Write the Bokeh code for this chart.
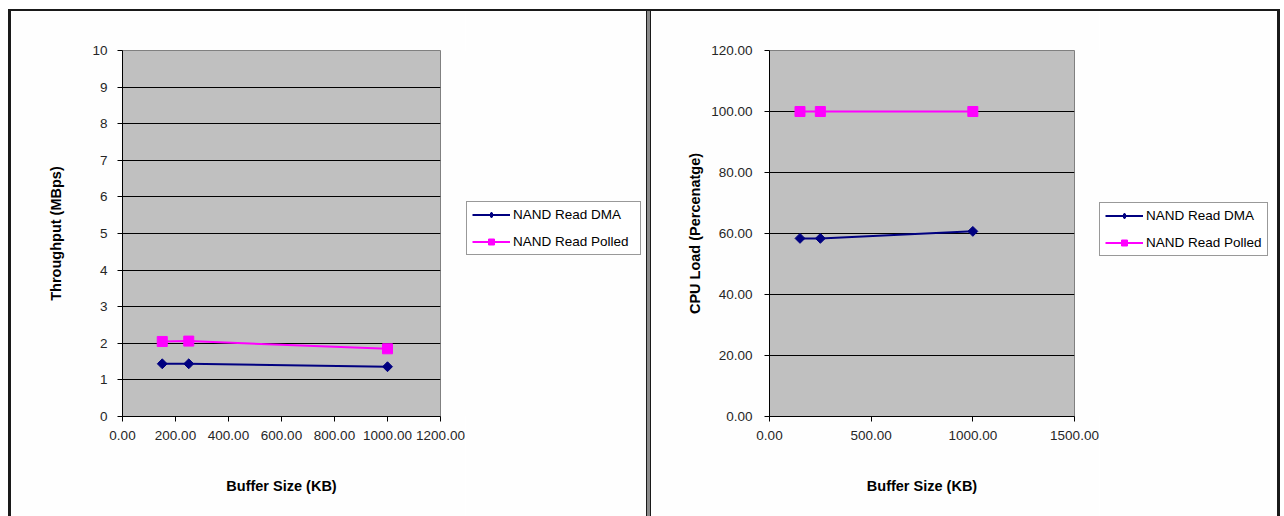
import math

from bokeh.plotting import figure
from bokeh.layouts import row, column
from bokeh.models import (Div, Spacer, FixedTicker, PrintfTickFormatter,
                          Legend, LegendItem, Range1d)
from bokeh.embed import file_html
from bokeh.resources import INLINE

# Measured NAND read performance vs. buffer size
buffer_kb = [150, 250, 1000]
tput_dma = [1.44, 1.44, 1.36]
tput_polled = [2.05, 2.06, 1.85]
cpu_dma = [58.4, 58.4, 60.7]
cpu_polled = [100.0, 100.0, 100.0]

series_names = ["NAND Read DMA", "NAND Read Polled"]

tput_x_ticks = [0, 200, 400, 600, 800, 1000, 1200]
tput_y_ticks = [0, 1, 2, 3, 4, 5, 6, 7, 8, 9, 10]
cpu_x_ticks = [0, 500, 1000, 1500]
cpu_y_ticks = [0, 20, 40, 60, 80, 100, 120]

FONT = "Liberation Sans"
DMA_COLOR = "#000080"
POLLED_COLOR = "#FF00FF"
PANEL_BG = "#fefefe"
HEIGHT = 505


def make_chart(width, left, x_ticks, y_ticks, y_fmt, y_label, dma, polled,
               y_label_standoff, y_tick_standoff):
    p = figure(width=width, height=HEIGHT, output_backend="svg",
               toolbar_location=None,
               x_range=Range1d(x_ticks[0], x_ticks[-1]),
               y_range=Range1d(y_ticks[0], y_ticks[-1]),
               min_border_left=left, min_border_right=25,
               min_border_top=39, min_border_bottom=100)
    p.background_fill_color = "#c0c0c0"
    p.border_fill_color = PANEL_BG
    p.outline_line_color = "#808080"
    p.outline_line_width = 1

    p.xaxis.ticker = FixedTicker(ticks=x_ticks)
    p.yaxis.ticker = FixedTicker(ticks=y_ticks)
    p.xaxis.formatter = PrintfTickFormatter(format="%.2f")
    p.yaxis.formatter = PrintfTickFormatter(format=y_fmt)
    p.xaxis.axis_label = "Buffer Size (KB)"
    p.yaxis.axis_label = y_label

    for ax in (p.xaxis[0], p.yaxis[0]):
        ax.axis_line_color = "black"
        ax.major_tick_line_color = "black"
        ax.major_tick_in = 0
        ax.major_tick_out = 5
        ax.minor_tick_line_color = None
        ax.major_label_text_font = FONT
        ax.major_label_text_font_size = "13.5px"
        ax.major_label_text_color = "#262626"
        ax.axis_label_text_font = FONT
        ax.axis_label_text_font_size = "14.5px"
        ax.axis_label_text_font_style = "bold"
        ax.axis_label_text_color = "black"
    p.xaxis.major_label_standoff = 9
    p.xaxis.axis_label_standoff = 35
    p.yaxis.major_label_standoff = y_tick_standoff
    p.yaxis.axis_label_standoff = y_label_standoff

    p.xgrid.visible = False
    p.ygrid.grid_line_color = "black"
    p.ygrid.grid_line_alpha = 1
    p.ygrid.grid_line_width = 1

    p.line(buffer_kb, dma, line_color=DMA_COLOR, line_width=2)
    p.scatter(buffer_kb, dma, marker="square", size=7, angle=math.pi / 4,
              fill_color=DMA_COLOR, line_color=DMA_COLOR)
    p.line(buffer_kb, polled, line_color=POLLED_COLOR, line_width=2)
    p.scatter(buffer_kb, polled, marker="square", size=10,
              fill_color=POLLED_COLOR, line_color=POLLED_COLOR)
    return p


def make_legend_box(width, legend_xy, label_width, dma, polled):
    # A bare canvas that only hosts the series key beside the chart
    k = figure(width=width, height=HEIGHT, output_backend="svg",
               toolbar_location=None, x_axis_type=None, y_axis_type=None,
               x_range=Range1d(0, 1), y_range=Range1d(0, 1),
               min_border=0)
    k.outline_line_color = None
    k.background_fill_color = PANEL_BG
    k.border_fill_color = PANEL_BG
    k.grid.visible = False

    l1 = k.line(buffer_kb, dma, line_color=DMA_COLOR, line_width=2, visible=False)
    s1 = k.scatter(buffer_kb, dma, marker="diamond", size=9,
                   fill_color=DMA_COLOR, line_color=DMA_COLOR, visible=False)
    l2 = k.line(buffer_kb, polled, line_color=POLLED_COLOR, line_width=2, visible=False)
    s2 = k.scatter(buffer_kb, polled, marker="square", size=9,
                   fill_color=POLLED_COLOR, line_color=POLLED_COLOR, visible=False)

    legend = Legend(items=[LegendItem(label=series_names[0], renderers=[l1, s1]),
                           LegendItem(label=series_names[1], renderers=[l2, s2])],
                    location=legend_xy)
    legend.margin = 0
    legend.padding = 5
    legend.spacing = 12
    legend.glyph_width = 38
    legend.glyph_height = 15
    legend.label_height = 15
    legend.label_width = label_width
    legend.label_standoff = 3
    legend.label_text_font = FONT
    legend.label_text_font_size = "13.5px"
    legend.label_text_color = "black"
    legend.border_line_color = "#333333"
    legend.border_line_width = 1
    legend.background_fill_color = "white"
    legend.background_fill_alpha = 1
    legend.inactive_fill_alpha = 0
    k.add_layout(legend)
    return k


# left panel: 635 px wide, right panel: 626 px wide
left_chart = make_chart(454, 111, tput_x_ticks, tput_y_ticks, "%d",
                        "Throughput (MBps)", tput_dma, tput_polled, 25, 10)
left_key = make_legend_box(635 - 454, (1, 161), 122, tput_dma, tput_polled)
right_chart = make_chart(448, 118, cpu_x_ticks, cpu_y_ticks, "%.2f",
                         "CPU Load (Percenatge)", cpu_dma, cpu_polled, 5, 12)
right_key = make_legend_box(626 - 448, (0, 160), 116, cpu_dma, cpu_polled)


def bar(w, h, color):
    return Div(width=w, height=h, margin=0,
               styles={"background-color": color})


page = column(
    Spacer(width=1284, height=9, margin=0),
    row(Spacer(width=8, height=2, margin=0), bar(1272, 2, "#1a1a1a")),
    row(Spacer(width=8, height=HEIGHT, margin=0),
        bar(3, HEIGHT, "#1a1a1a"),
        left_chart, left_key,
        bar(1, HEIGHT, "#1a1a1a"), bar(3, HEIGHT, "#8a8a8a"), bar(1, HEIGHT, "#1a1a1a"),
        right_chart, right_key,
        bar(3, HEIGHT, "#1a1a1a")),
)

open("out.html", "w").write(file_html(page, INLINE))
